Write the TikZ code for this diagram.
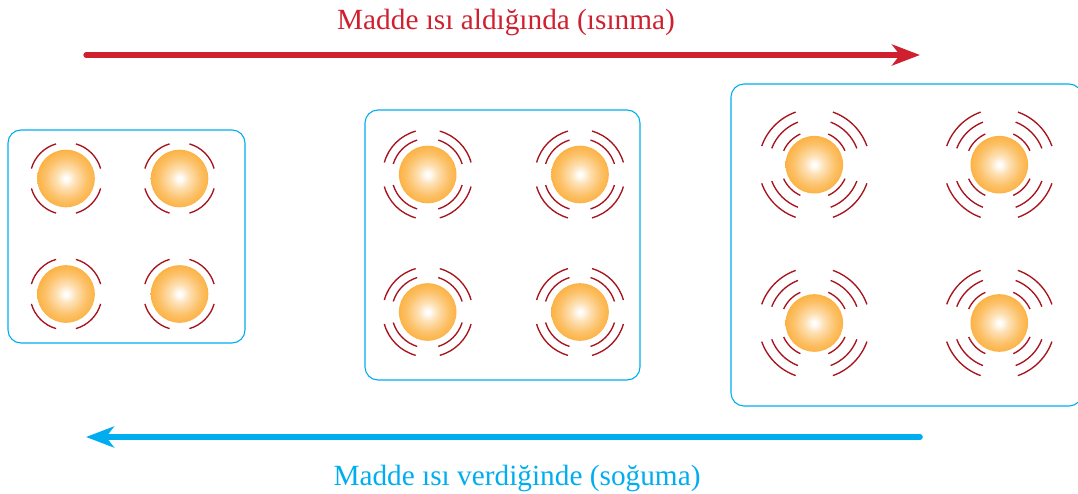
\documentclass[tikz,border=0pt]{standalone}
\usepackage{fontspec}
\setmainfont{Liberation Serif}
\usetikzlibrary{arrows.meta}
\definecolor{heat}{HTML}{CF2030}
\definecolor{cool}{HTML}{00AEEF}
\definecolor{wavered}{HTML}{A8141E}
\definecolor{ballout}{HTML}{FBAA30}
\pgfdeclareradialshading{ballglow}{\pgfpoint{0bp}{0bp}}{%
  color(0bp)=(white);color(2bp)=(white!97!ballout);
  color(8bp)=(ballout!35!white);color(18bp)=(ballout!72!white);
  color(29bp)=(ballout);color(60bp)=(ballout)}
\tikzset{
  panel/.style={draw=cool,line width=1.1pt,rounded corners=13pt,inner sep=0pt},
  ball/.style={circle,shading=ballglow,minimum size=57.6pt,inner sep=0pt},
  wave/.style={draw=wavered,line width=1.35pt},
  heatflow/.style={-{Stealth[length=28pt,width=21pt,inset=8pt]},line width=5.2pt,line cap=round,heat},
  coolflow/.style={-{Stealth[length=28pt,width=21pt,inset=8pt]},line width=5.6pt,line cap=round,cool},
  heatlabel/.style={font=\fontsize{29.3}{34}\selectfont,text=heat},
  coollabel/.style={font=\fontsize{29.3}{34}\selectfont,text=cool}
}
% four arcs round a ball: centre node, radius, gap at each axis
\newcommand{\wavearcs}[3]{\foreach \q in {0,90,180,270}
  \draw[wave] ([shift={(\q+#3:#2)}]#1.center) arc[start angle=\q+#3,end angle=\q+90-#3,radius=#2];}

\begin{document}
\begin{tikzpicture}[x=1pt,y=-1pt]
\useasboundingbox (0,0) rectangle (1078,494);
\node[heatlabel] (heattext) at (506,22.5) {Madde ısı aldığında (ısınma)};
\coordinate (heatstart) at (86,55);
\coordinate (heatend) at (920,55);
\draw[heatflow] (heatstart)--(heatend);

% left box
\node[panel,minimum width=237pt,minimum height=213pt] (boxa) at (126.5,236.5) {};
\node[ball] (a1) at (66,178.5) {};
\node[ball] (a2) at (179.5,178.5) {};
\node[ball] (a3) at (66,294) {};
\node[ball] (a4) at (179.5,294) {};
\wavearcs{a1}{36pt}{16}
\wavearcs{a2}{36pt}{16}
\wavearcs{a3}{36pt}{16}
\wavearcs{a4}{36pt}{16}

% middle box
\node[panel,minimum width=275pt,minimum height=270pt] (boxb) at (502.5,245) {};
\node[ball] (b1) at (427.7,174.5) {};
\node[ball] (b2) at (580,174.5) {};
\node[ball] (b3) at (427.7,312) {};
\node[ball] (b4) at (580,312) {};
\foreach \r/\g in {36pt/17,45pt/15.5} {
  \wavearcs{b1}{\r}{\g}
  \wavearcs{b2}{\r}{\g}
  \wavearcs{b3}{\r}{\g}
  \wavearcs{b4}{\r}{\g}
}

% right box
\node[panel,minimum width=351pt,minimum height=322pt] (boxc) at (906.5,245) {};
\node[ball] (c1) at (814.3,164.7) {};
\node[ball] (c2) at (999.3,164.7) {};
\node[ball] (c3) at (814.3,323) {};
\node[ball] (c4) at (999.3,323) {};
\foreach \r/\g in {33.7pt/24.5,45.6pt/21,55.8pt/19.5} {
  \wavearcs{c1}{\r}{\g}
  \wavearcs{c2}{\r}{\g}
  \wavearcs{c3}{\r}{\g}
  \wavearcs{c4}{\r}{\g}
}

\coordinate (coolstart) at (920,437);
\coordinate (coolend) at (86,437);
\draw[coolflow] (coolstart)--(coolend);
\node[coollabel] (cooltext) at (517,478) {Madde ısı verdiğinde (soğuma)};
\end{tikzpicture}
\end{document}
